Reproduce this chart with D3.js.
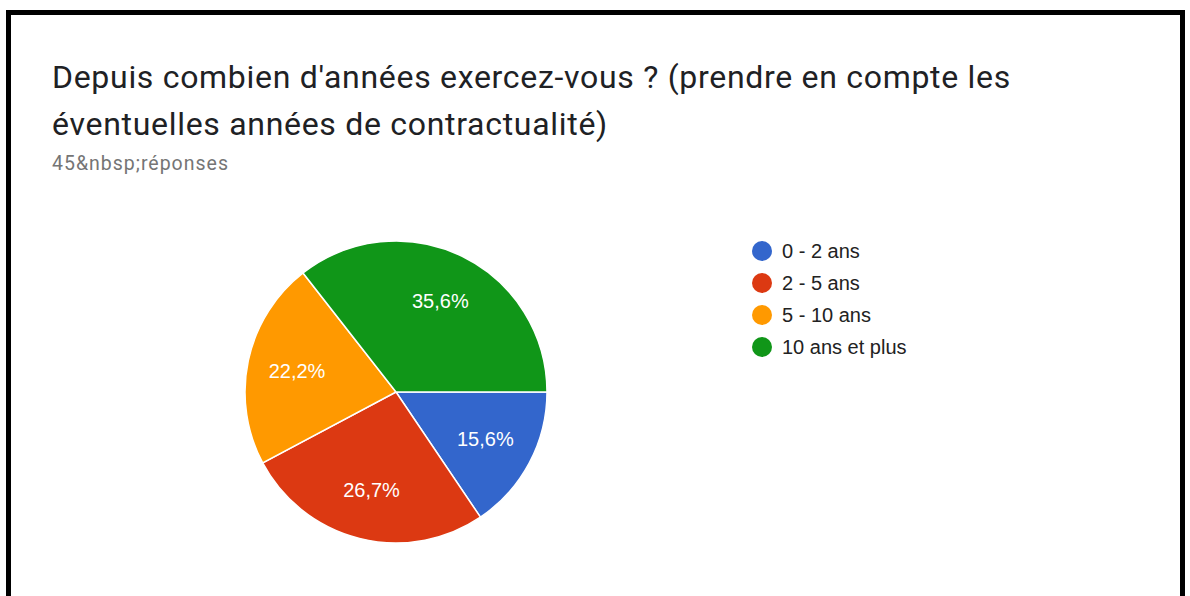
<!DOCTYPE html>
<html>
<head>
<meta charset="utf-8">
<script src="https://cdnjs.cloudflare.com/ajax/libs/d3/7.8.5/d3.min.js"></script>
<style>
  body { margin: 0; background: #fff; }
  svg { display: block; font-family: Roboto, Arial, sans-serif; }
  .chart-text { font-family: "Liberation Sans", Arial, sans-serif; }
</style>
</head>
<body>
<script>
var categories = ["0 - 2 ans", "2 - 5 ans", "5 - 10 ans", "10 ans et plus"];
var counts = [7, 12, 10, 16];
var colors = ["#3366cc", "#dc3912", "#ff9900", "#109618"];
var titleLines = ["Depuis combien d'années exercez-vous ? (prendre en compte les",
                  "éventuelles années de contractualité)"];
var subtitle = "45&nbsp;réponses";

var svg = d3.select("body").append("svg").attr("width", 1190).attr("height", 596);

// cadre noir
svg.append("rect")
  .attr("x", 8.5).attr("y", 12.5)
  .attr("width", 1174).attr("height", 620)
  .attr("fill", "#fff").attr("stroke", "#000").attr("stroke-width", 5);

// titre
svg.append("g").selectAll("text").data(titleLines).enter().append("text")
  .attr("x", 52)
  .attr("y", function (d, i) { return 88 + i * 47; })
  .attr("font-size", 32)
  .attr("letter-spacing", 0.7)
  .attr("fill", "#202124")
  .text(function (d) { return d; });

svg.append("text")
  .attr("x", 52).attr("y", 170)
  .attr("font-size", 19.5)
  .attr("letter-spacing", 1)
  .attr("fill", "#757575")
  .text(subtitle);

// camembert
var total = d3.sum(counts);
var color = d3.scaleOrdinal().domain(categories).range(colors);
var pie = d3.pie().sort(null)
  .startAngle(Math.PI / 2).endAngle(Math.PI / 2 + 2 * Math.PI)
  .value(function (d) { return d.v; });
var data = categories.map(function (c, i) { return { c: c, v: counts[i] }; });
var r = 151;
var arc = d3.arc().innerRadius(0).outerRadius(r);
var labelArc = d3.arc().innerRadius(r * 0.67).outerRadius(r * 0.67);

var g = svg.append("g").attr("transform", "translate(396,392)");
var arcs = pie(data);

g.selectAll("path").data(arcs).enter().append("path")
  .attr("d", arc)
  .attr("fill", function (d) { return color(d.data.c); })
  .attr("stroke", "#fff").attr("stroke-width", 1.5);

var fmt = function (v) { return (v / total * 100).toFixed(1).replace(".", ",") + "%"; };
g.selectAll("text").data(arcs).enter().append("text")
  .attr("class", "chart-text")
  .attr("transform", function (d) { return "translate(" + labelArc.centroid(d) + ")"; })
  .attr("text-anchor", "middle")
  .attr("dy", "0.35em")
  .attr("font-size", 20)
  .attr("fill", "#fff")
  .text(function (d) { return fmt(d.data.v); });

// légende
var leg = svg.append("g").attr("transform", "translate(762,251)");
var item = leg.selectAll("g").data(categories).enter().append("g")
  .attr("transform", function (d, i) { return "translate(0," + i * 32 + ")"; });
item.append("circle").attr("r", 10).attr("fill", function (d) { return color(d); });
item.append("text")
  .attr("class", "chart-text")
  .attr("x", 20).attr("dy", "0.35em")
  .attr("font-size", 20)
  .attr("fill", "#222")
  .text(function (d) { return d; });
</script>
</body>
</html>
